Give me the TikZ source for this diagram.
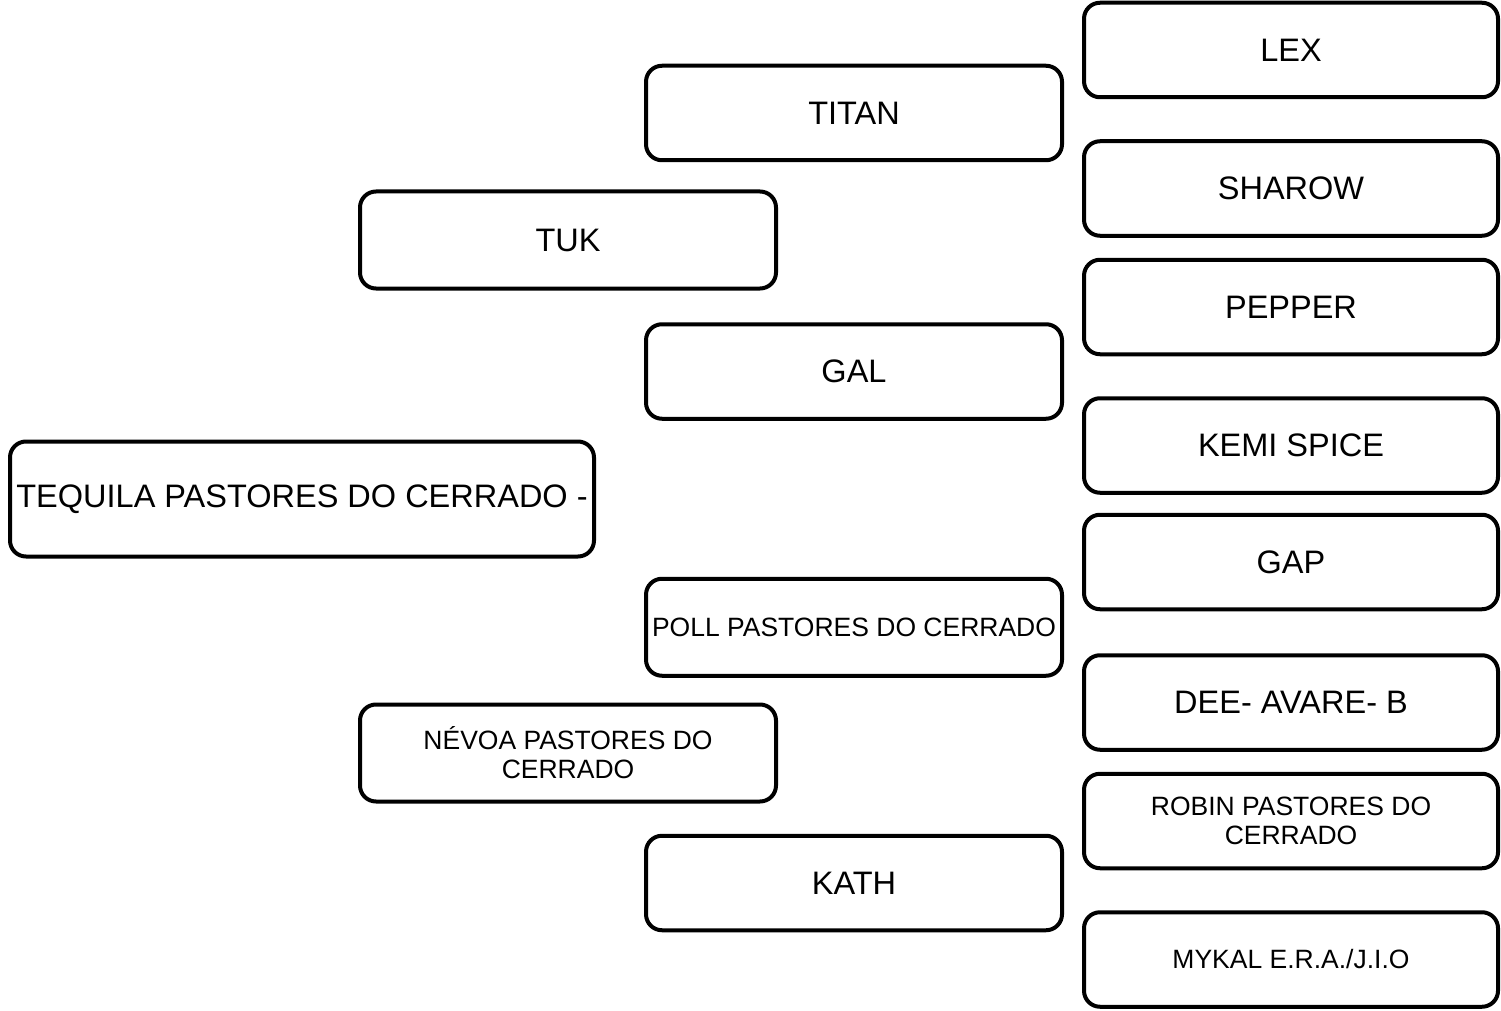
\documentclass[tikz,border=0pt]{standalone}
\usepackage{fontspec}
\setmainfont{Liberation Sans}
\usetikzlibrary{positioning}

\begin{document}
\begin{tikzpicture}[x=1pt,y=-1pt,
    team/.style={draw, line width=4pt, rounded corners=16pt, align=center,
        minimum width=414pt, minimum height=94.5pt, inner sep=0pt,
        font=\fontsize{32.5}{35}\selectfont},
    small/.append style={font=\fontsize{26.5}{29}\selectfont}]
        \useasboundingbox (0,0) rectangle (1501,1011);

        \node[team] (lex) at (1291,50) {LEX};
        \node[team, below=40pt of lex] (sharow) {SHAROW};
        \node[team, below=20pt of sharow] (pepper) {PEPPER};
        \node[team, below=40pt of pepper] (kemi) {KEMI SPICE};
        \node[team, below=18pt of kemi] (gap) {GAP};
        \node[team, below=42pt of gap] (dee) {DEE- AVARE- B};
        \node[team, small, below=20pt of dee] (robin) {ROBIN PASTORES DO\\CERRADO};
        \node[team, small, below=40pt of robin] (mykal) {MYKAL E.R.A./J.I.O};

        \node[team, minimum width=416pt] (titan) at (854,113) {TITAN};
        \node[team, minimum width=416pt, below=160pt of titan] (gal) {GAL};
        \node[team, small, minimum width=416pt, minimum height=97pt, below=156pt of gal] (poll) {POLL PASTORES DO CERRADO};
        \node[team, minimum width=416pt, below=156pt of poll] (kath) {KATH};

        \node[team, minimum width=416pt, minimum height=97pt] (tuk) at (568,240) {TUK};
        \node[team, small, minimum width=416pt, minimum height=97pt, below=412pt of tuk] (nevoa) {NÉVOA PASTORES DO\\CERRADO};

        \node[team, minimum width=584pt, minimum height=115pt] (tequila) at (302,499) {TEQUILA PASTORES DO CERRADO -};
    \end{tikzpicture}
\end{document}
